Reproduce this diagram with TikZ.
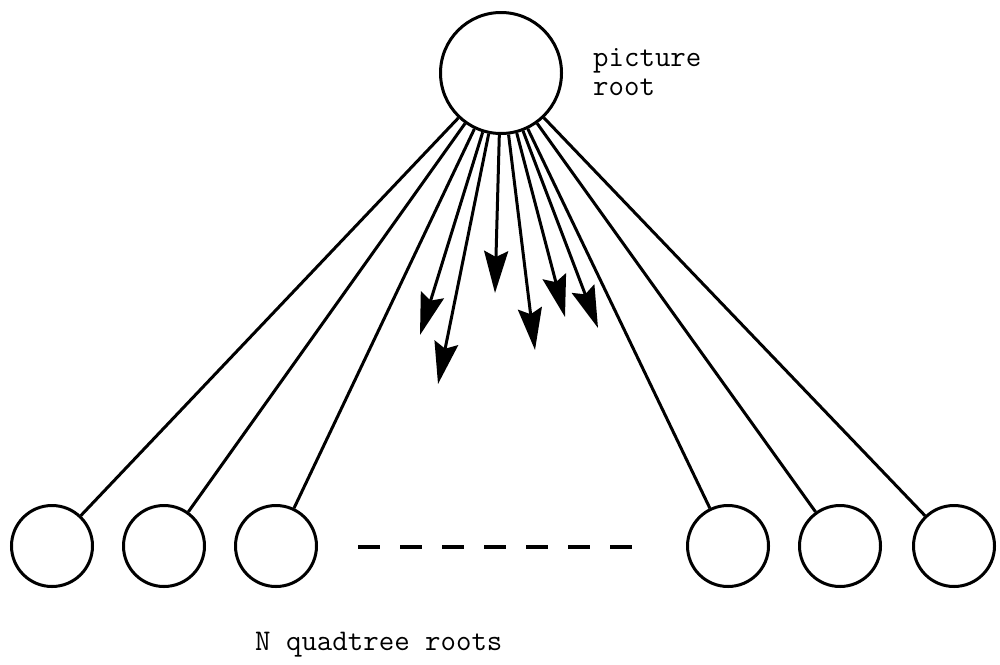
\documentclass[tikz,border=0pt]{standalone}
\usetikzlibrary{arrows.meta}
\begin{document}
\begin{tikzpicture}[x=1pt,y=-1pt,
  ink/.style={line width=3pt, draw=black},
  rootnode/.style={ink, circle, inner sep=0pt, minimum size=121pt},
  leafnode/.style={ink, circle, inner sep=0pt, minimum size=81pt},
  edge/.style={ink},
  pointer/.style={ink, -{Stealth[length=42pt, width=24pt, inset=6pt]}},
  label/.style={font=\fontsize{30}{30}\selectfont\ttfamily, inner sep=0pt}]
  \useasboundingbox (0,0) rectangle (1000,664);

  % picture root
  \node[rootnode] (root) at (501,73) {};
  \node[label, anchor=base west] (lblpic) at (593,66) {picture};
  \node[label, anchor=base west] (lblroot) at (593,95) {root};

  % quadtree roots
  \node[leafnode] (q1) at (52,546) {};
  \node[leafnode] (q2) at (164,546) {};
  \node[leafnode] (q3) at (276,546) {};
  \node[leafnode] (q4) at (728,546) {};
  \node[leafnode] (q5) at (840,546) {};
  \node[leafnode] (q6) at (954,546) {};

  \foreach \q in {q1,q2,q3,q4,q5,q6}
    \draw[edge] (root) -- (\q);

  % free pointers
  \coordinate (t1) at (420,335);
  \coordinate (t2) at (438,384);
  \coordinate (t3) at (495,293);
  \coordinate (t4) at (535,350);
  \coordinate (t5) at (565,317);
  \coordinate (t6) at (598,328);
  \foreach \t in {t1,t2,t3,t4,t5,t6}
    \draw[pointer] (root) -- (\t);

  % ellipsis between the leaves
  \coordinate (dl) at (358,547);
  \coordinate (dr) at (632,547);
  \draw[line width=4pt, dash pattern=on 22pt off 20pt] (dl) -- (dr);

  \node[label, anchor=base west] (lblq) at (255,650) {N quadtree roots};
\end{tikzpicture}
\end{document}
